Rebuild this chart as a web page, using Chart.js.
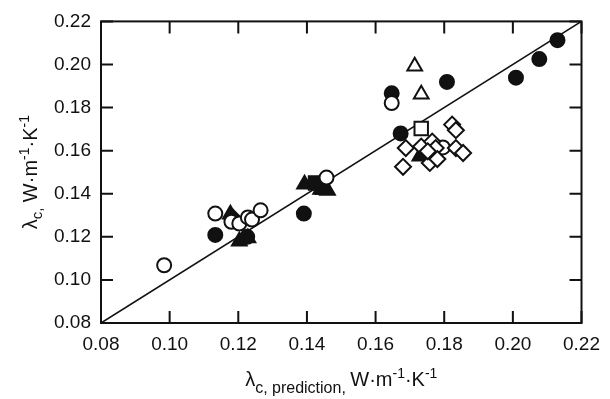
<!DOCTYPE html>
<html>
<head>
<meta charset="utf-8">
<title>lambda c vs prediction</title>
<script src="https://cdn.jsdelivr.net/npm/chart.js@4.4.1/dist/chart.umd.min.js"></script>
<style>
    html, body { margin: 0; padding: 0; background: #fff; }
    #wrap { width: 610px; height: 399px; }
</style>
</head>
<body>
<div id="wrap"><canvas id="parityChart" width="610" height="399"></canvas></div>
<script>
// axis range and ticks
const axisMin = 0.08;
const axisMax = 0.22;
const tickStep = 0.02;

// parity line (measured = predicted)
const parityX = [0.08, 0.22];
const parityY = [0.08, 0.22];

// filled circles
const filledCircleX = [0.1133, 0.1226, 0.1391, 0.1647, 0.1673, 0.1808, 0.2009, 0.2077, 0.2130];
const filledCircleY = [0.1209, 0.1200, 0.1308, 0.1866, 0.1680, 0.1919, 0.1939, 0.2025, 0.2113];

// open circles
const openCircleX = [0.0984, 0.1133, 0.1180, 0.1203, 0.1228, 0.1240, 0.1265, 0.1457, 0.1647, 0.1796];
const openCircleY = [0.1068, 0.1308, 0.1270, 0.1262, 0.1290, 0.1280, 0.1323, 0.1475, 0.1821, 0.1615];

// filled triangles
const filledTriX = [0.1177, 0.1203, 0.1228, 0.1393, 0.1440, 0.1460, 0.1729];
const filledTriY = [0.1305, 0.1180, 0.1195, 0.1444, 0.1420, 0.1415, 0.1574];

// open triangles
const openTriX = [0.1714, 0.1733];
const openTriY = [0.1992, 0.1862];

// filled squares / diamond
const filledSquareX = [0.1425, 0.1445];
const filledSquareY = [0.1450, 0.1430];
const filledDiamondX = [0.1185];
const filledDiamondY = [0.1290];

// open square
const openSquareX = [0.1733];
const openSquareY = [0.1703];

// open diamonds
const openDiamondX = [0.1688, 0.1680, 0.1733, 0.1765, 0.1775, 0.1758, 0.1780, 0.1823, 0.1834, 0.1834, 0.1855, 0.1752];
const openDiamondY = [0.1612, 0.1525, 0.1619, 0.1642, 0.1612, 0.1543, 0.1561, 0.1721, 0.1695, 0.1612, 0.1589, 0.1597];

// axis titles (text, size, vertical shift)
const yTitleParts = [
    { t: "λ", s: 20, dy: 0 },
    { t: "c,", s: 15, dy: 5 },
    { t: " W·m", s: 20, dy: 0 },
    { t: "-1", s: 14, dy: -8 },
    { t: "·K", s: 20, dy: 0 },
    { t: "-1", s: 14, dy: -8 }
];
const xTitleParts = [
    { t: "λ", s: 20, dy: 0 },
    { t: "c, prediction, ", s: 16, dy: 7 },
    { t: "W·m", s: 20, dy: 0 },
    { t: "-1", s: 14, dy: -8 },
    { t: "·K", s: 20, dy: 0 },
    { t: "-1", s: 14, dy: -8 }
];

const FONT = "'Liberation Sans', Arial, sans-serif";
const INK = "#111";

function toPoints(xs, ys) {
    return xs.map((x, i) => ({ x: x, y: ys[i] }));
}

function markerSet(xs, ys, style, filled, radius) {
    return {
        type: "scatter",
        data: toPoints(xs, ys),
        pointStyle: style,
        pointRadius: radius,
        pointHoverRadius: radius,
        pointBackgroundColor: filled ? INK : "#fff",
        pointBorderColor: INK,
        pointBorderWidth: 2,
        order: 1
    };
}

function drawRich(ctx, parts, cx, baseY) {
    let total = 0;
    parts.forEach(p => {
        ctx.font = p.s + "px " + FONT;
        total += ctx.measureText(p.t).width;
    });
    let x = cx - total / 2;
    ctx.textAlign = "left";
    ctx.textBaseline = "alphabetic";
    parts.forEach(p => {
        ctx.font = p.s + "px " + FONT;
        ctx.fillText(p.t, x, baseY + p.dy);
        x += ctx.measureText(p.t).width;
    });
}

// frame, inward ticks on all sides, and axis titles
const framePlugin = {
    id: "frame",
    afterDraw(chart) {
        const ctx = chart.ctx;
        const a = chart.chartArea;
        const xs = chart.scales.x;
        const ys = chart.scales.y;
        const tl = 12;
        ctx.save();
        ctx.strokeStyle = INK;
        ctx.lineWidth = 2;
        ctx.strokeRect(a.left, a.top, a.right - a.left, a.bottom - a.top);
        ctx.beginPath();
        for (let v = axisMin; v <= axisMax + 1e-9; v += tickStep) {
            const px = xs.getPixelForValue(v);
            const py = ys.getPixelForValue(v);
            ctx.moveTo(px, a.bottom); ctx.lineTo(px, a.bottom - tl);
            ctx.moveTo(px, a.top); ctx.lineTo(px, a.top + tl);
            ctx.moveTo(a.left, py); ctx.lineTo(a.left + tl, py);
            ctx.moveTo(a.right, py); ctx.lineTo(a.right - tl, py);
        }
        ctx.stroke();

        ctx.fillStyle = INK;
        drawRich(ctx, xTitleParts, (a.left + a.right) / 2, 386);
        ctx.translate(37, (a.top + a.bottom) / 2);
        ctx.rotate(-Math.PI / 2);
        drawRich(ctx, yTitleParts, 0, 0);
        ctx.restore();
    }
};

const tickFont = { family: FONT, size: 19 };

new Chart(document.getElementById("parityChart"), {
    type: "scatter",
    data: {
        datasets: [
            {
                type: "line",
                data: toPoints(parityX, parityY),
                borderColor: INK,
                borderWidth: 1.6,
                pointRadius: 0,
                fill: false,
                order: 10
            },
            markerSet(openDiamondX, openDiamondY, "rectRot", false, 8),
            markerSet(openSquareX, openSquareY, "rect", false, 9.5),
            markerSet(openTriX, openTriY, "triangle", false, 8.5),
            markerSet(openCircleX, openCircleY, "circle", false, 7),
            markerSet(filledDiamondX, filledDiamondY, "rectRot", true, 7.5),
            markerSet(filledSquareX, filledSquareY, "rect", true, 9.5),
            markerSet(filledTriX, filledTriY, "triangle", true, 8.5),
            markerSet(filledCircleX, filledCircleY, "circle", true, 7)
        ]
    },
    options: {
        responsive: false,
        animation: false,
        events: [],
        layout: { padding: { top: 16, right: 23, left: 0, bottom: 0 } },
        plugins: {
            legend: { display: false },
            tooltip: { enabled: false }
        },
        scales: {
            x: {
                type: "linear",
                min: axisMin,
                max: axisMax,
                grid: { display: false, drawTicks: false },
                border: { display: false },
                ticks: {
                    stepSize: tickStep,
                    padding: 10,
                    color: INK,
                    font: tickFont,
                    maxRotation: 0,
                    callback: v => v.toFixed(2)
                },
                afterFit: s => { s.height = 76; }
            },
            y: {
                type: "linear",
                min: axisMin,
                max: axisMax,
                grid: { display: false, drawTicks: false },
                border: { display: false },
                ticks: {
                    stepSize: tickStep,
                    padding: 10,
                    color: INK,
                    font: tickFont,
                    callback: v => v.toFixed(2)
                },
                afterFit: s => { s.width = 101; }
            }
        }
    },
    plugins: [framePlugin]
});
</script>
</body>
</html>
